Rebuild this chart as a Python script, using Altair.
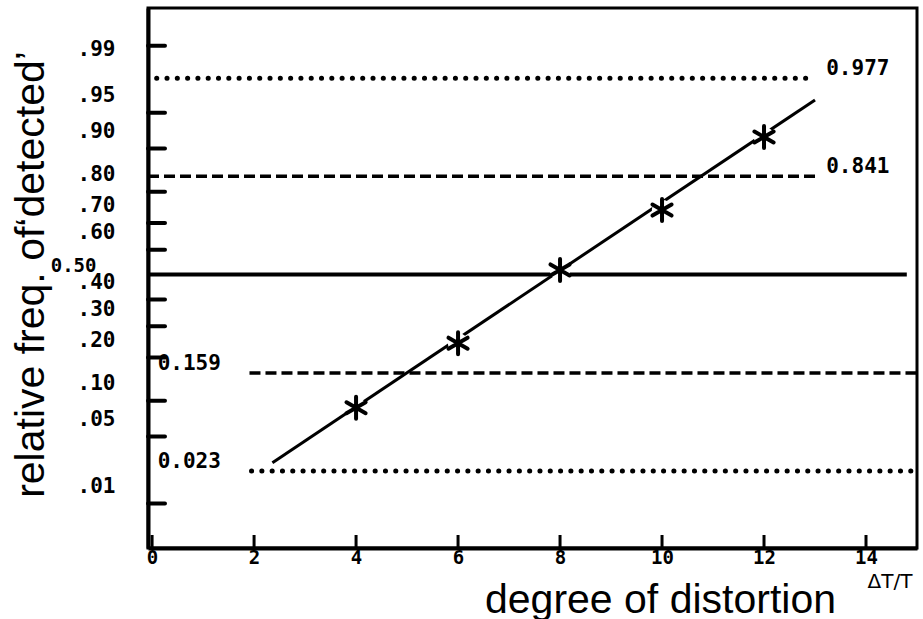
import altair as alt
import pandas as pd
from statistics import NormalDist

nd = NormalDist()

# ---- data ----
obs_x = [4, 6, 8, 10, 12]
obs_p = [0.088, 0.243, 0.519, 0.744, 0.919]

fit_x = [2.36, 13.0]
fit_p = [0.028, 0.962]

ref_p = [0.977, 0.841, 0.5, 0.159, 0.023]
ref_x0 = [0.09, -0.08, -0.08, 1.91, 1.95]
ref_x1 = [13.0, 13.09, 14.8, 15.0, 15.0]
ref_text = ["0.977", "0.841", "0.50", "0.159", "0.023"]
ref_text_x = [13.22, 13.22, -1.09, 0.11, 0.11]

ytick_p = [0.01, 0.05, 0.10, 0.20, 0.30, 0.40, 0.60, 0.70, 0.80, 0.90, 0.95, 0.99]
xtick_vals = [0, 2, 4, 6, 8, 10, 12, 14]

W, H = 769, 540
probit = lambda p: nd.inv_cdf(p)

obs = pd.DataFrame({"x": obs_x, "z": [probit(p) for p in obs_p]})
fit = pd.DataFrame({"x": fit_x, "z": [probit(p) for p in fit_p]})
ref = pd.DataFrame({"x": ref_x0, "x1": ref_x1, "z": [probit(p) for p in ref_p],
                    "label": ref_text, "tx": ref_text_x})
yt = pd.DataFrame({"z": [probit(p) for p in ytick_p]})
xt = pd.DataFrame({"x": xtick_vals})

xs = alt.Scale(domain=[-0.08, 15.0], nice=False, zero=False)
ys = alt.Scale(domain=[-2.778, 2.709], nice=False, zero=False)

x_axis = alt.Axis(values=xtick_vals, ticks=False, tickSize=0, domain=True,
                  domainColor="black", domainWidth=4, grid=False,
                  labelFont="DejaVu Sans Mono", labelFontSize=19, labelFontWeight="bold",
                  labelColor="black",
                  labelPadding=0, labelBaseline="top", labelFlush=False,
                  title="degree of distortion", titleFont="Liberation Sans",
                  titleFontSize=41, titleFontWeight="normal", titleColor="black",
                  titleX=512, titleY=64, titleAlign="center", titleBaseline="alphabetic")

y_axis = alt.Axis(values=list(yt["z"]), ticks=False, tickSize=0, domain=True,
                  domainColor="black", domainWidth=4, grid=False,
                  labelExpr="'.' + slice(format(cumulativeNormal(datum.value), '.2f'), 2)",
                  labelFont="DejaVu Sans Mono", labelFontSize=21, labelFontWeight="bold",
                  labelColor="black",
                  labelPadding=33, labelAlign="right", labelBaseline="middle",
                  labelOffset=alt.condition("datum.value > 2.2", alt.value(4), alt.value(-17)),
                  labelFlush=False, labelOverlap=False,
                  title="relative freq. of‘detected’", titleFont="Liberation Sans",
                  titleFontSize=41, titleFontWeight="normal", titleColor="black",
                  titleAngle=270, titleX=-105, titleY=266, titleAlign="center",
                  titleBaseline="alphabetic")

def X(f):
    return alt.X(f, type="quantitative", scale=xs, axis=x_axis)

def Y(f):
    return alt.Y(f, type="quantitative", scale=ys, axis=y_axis)

base_ref = alt.Chart(ref)
dotted = base_ref.transform_filter("datum.label == '0.977' || datum.label == '0.023'").mark_rule(
    color="black", strokeWidth=5, strokeDash=[0.1, 10.2], strokeCap="round"
).encode(x=X("x"), x2="x1", y=Y("z"))
dashed = base_ref.transform_filter("datum.label == '0.841' || datum.label == '0.159'").mark_rule(
    color="black", strokeWidth=3.5, strokeDash=[11, 5]
).encode(x=X("x"), x2="x1", y=Y("z"))
solid = base_ref.transform_filter("datum.label == '0.50'").mark_rule(
    color="black", strokeWidth=4
).encode(x=X("x"), x2="x1", y=Y("z"))

yticks = alt.Chart(yt).mark_rule(color="black", strokeWidth=4, strokeCap="round").encode(
    y=Y("z"), x=alt.value(0), x2=alt.value(17))
xticks = alt.Chart(xt).mark_rule(color="black", strokeWidth=3).encode(
    x=X("x"), y=alt.value(H - 13), y2=alt.value(H))

fit_line = alt.Chart(fit).mark_line(color="black", strokeWidth=3).encode(x=X("x"), y=Y("z"))

halo = alt.Chart(obs).mark_point(shape="circle", filled=True, color="white", opacity=1,
                                 size=420).encode(x=X("x"), y=Y("z"))
star_path = "M0,-1L0,1M-0.87,-0.5L0.87,0.5M-0.87,0.5L0.87,-0.5"
stars = alt.Chart(obs).mark_point(shape=star_path, filled=False, color="black", opacity=1,
                                  strokeWidth=4, strokeCap="round", size=484).encode(
    x=X("x"), y=Y("z"))

lbl_left = base_ref.transform_filter("datum.label != '0.50'").mark_text(
    font="DejaVu Sans Mono", fontSize=21, fontWeight="bold", color="black", align="left",
    baseline="alphabetic", dy=-3).encode(x=X("tx"), y=Y("z"), text="label")
lbl_50 = base_ref.transform_filter("datum.label == '0.50'").mark_text(
    font="DejaVu Sans Mono", fontSize=19, fontWeight="bold", color="black", align="right",
    baseline="alphabetic", dy=-3).encode(x=X("tx"), y=Y("z"), text="label")

unit = alt.Chart(pd.DataFrame({"t": ["ΔT/T"]})).mark_text(
    font="DejaVu Sans", fontSize=20, color="black", align="center", baseline="middle"
).encode(x=alt.value(742), y=alt.value(574), text="t")

chart = alt.layer(dotted, dashed, solid, yticks, xticks, fit_line, halo, stars,
                  lbl_left, lbl_50, unit).properties(
    width=W, height=H,
    padding={"left": 148, "top": 8, "right": 6, "bottom": 71},
    autosize=alt.AutoSizeParams(type="none"),
    background="white",
).configure_view(stroke="black", strokeWidth=3)

chart.save("out.html", embed_options={"renderer": "svg", "actions": False})
